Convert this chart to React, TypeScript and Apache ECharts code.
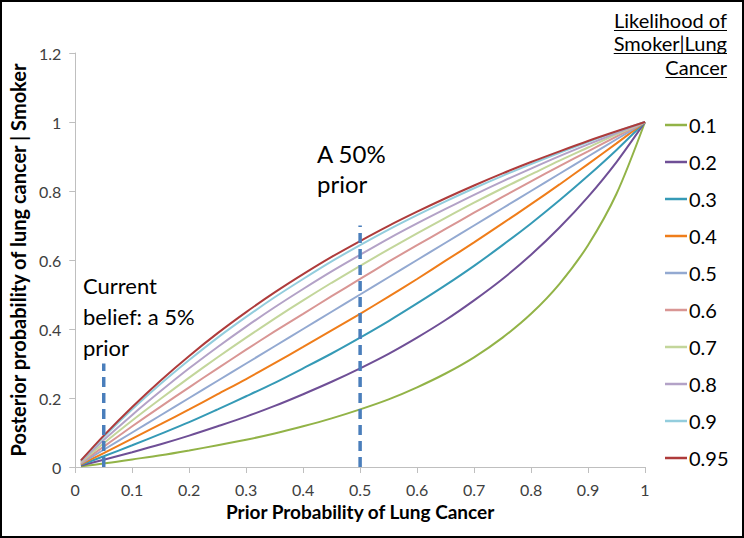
import React, { useEffect, useRef } from "react";
import * as echarts from "echarts";

const priors = [0.01, 0.05, 0.1, 0.15, 0.2, 0.25, 0.3, 0.35, 0.4, 0.45, 0.5, 0.55, 0.6, 0.65, 0.7, 0.75, 0.8, 0.85, 0.9, 0.95, 1];
const likelihoods = ["0.1", "0.2", "0.3", "0.4", "0.5", "0.6", "0.7", "0.8", "0.9", "0.95"];
const post01 = [0.002, 0.010, 0.022, 0.034, 0.048, 0.063, 0.079, 0.097, 0.118, 0.141, 0.167, 0.196, 0.231, 0.271, 0.318, 0.375, 0.444, 0.531, 0.643, 0.792, 1];
const post02 = [0.004, 0.021, 0.043, 0.066, 0.091, 0.118, 0.146, 0.177, 0.211, 0.247, 0.286, 0.328, 0.375, 0.426, 0.483, 0.545, 0.615, 0.694, 0.783, 0.884, 1];
const post03 = [0.006, 0.031, 0.063, 0.096, 0.130, 0.167, 0.205, 0.244, 0.286, 0.329, 0.375, 0.423, 0.474, 0.527, 0.583, 0.643, 0.706, 0.773, 0.844, 0.919, 1];
const post04 = [0.008, 0.040, 0.082, 0.124, 0.167, 0.211, 0.255, 0.301, 0.348, 0.396, 0.444, 0.494, 0.545, 0.598, 0.651, 0.706, 0.762, 0.819, 0.878, 0.938, 1];
const post05 = [0.010, 0.050, 0.100, 0.150, 0.200, 0.250, 0.300, 0.350, 0.400, 0.450, 0.500, 0.550, 0.600, 0.650, 0.700, 0.750, 0.800, 0.850, 0.900, 0.950, 1];
const post06 = [0.012, 0.059, 0.118, 0.175, 0.231, 0.286, 0.340, 0.393, 0.444, 0.495, 0.545, 0.595, 0.643, 0.690, 0.737, 0.783, 0.828, 0.872, 0.915, 0.958, 1];
const post07 = [0.014, 0.069, 0.135, 0.198, 0.259, 0.318, 0.375, 0.430, 0.483, 0.534, 0.583, 0.631, 0.677, 0.722, 0.766, 0.808, 0.848, 0.888, 0.926, 0.964, 1];
const post08 = [0.016, 0.078, 0.151, 0.220, 0.286, 0.348, 0.407, 0.463, 0.516, 0.567, 0.615, 0.662, 0.706, 0.748, 0.789, 0.828, 0.865, 0.901, 0.935, 0.968, 1];
const post09 = [0.018, 0.087, 0.167, 0.241, 0.310, 0.375, 0.435, 0.492, 0.545, 0.596, 0.643, 0.688, 0.730, 0.770, 0.808, 0.844, 0.878, 0.911, 0.942, 0.972, 1];
const post095 = [0.019, 0.091, 0.174, 0.251, 0.322, 0.388, 0.449, 0.506, 0.559, 0.609, 0.655, 0.699, 0.740, 0.779, 0.816, 0.851, 0.884, 0.915, 0.945, 0.973, 1];
const posteriors = [post01, post02, post03, post04, post05, post06, post07, post08, post09, post095];

const markerPriors = [0.05, 0.5];
const markerTops = [0.3, 0.7];

const colors = [
  "#92b347", "#6f4f96", "#359ab6", "#ef7d1a", "#93a9d1",
  "#d99694", "#c3d69b", "#b3a2c7", "#93cddd", "#ae3b3b",
];

const FONT = "Lato, 'Open Sans', sans-serif";

function measure(text: string, font: string): number {
  const c = document.createElement("canvas");
  const ctx = c.getContext("2d");
  if (!ctx) return text.length * 9;
  ctx.font = font;
  return ctx.measureText(text).width;
}

export default function App() {
  const ref = useRef<HTMLDivElement>(null);
  useEffect(() => {
    if (!ref.current) return;
    const chart = echarts.init(ref.current, undefined, { renderer: "svg" });

    const lineSeries = likelihoods.map((name, k) => ({
      name,
      type: "line",
      data: priors.map((p, i) => [p, posteriors[k][i]]),
      smooth: 0.3,
      showSymbol: false,
      symbol: "none",
      color: colors[k],
      lineStyle: { width: 2, color: colors[k] },
      z: 3 + k,
    }));

    const markerSeries = markerPriors.map((p, i) => ({
      name: "marker" + i,
      type: "line",
      data: [[p, 0], [p, markerTops[i]]],
      symbol: "none",
      silent: true,
      lineStyle: { width: 3.5, color: "#4a7ebb", type: [10, 6] },
      z: 20,
    }));

    const titleFont = 20;
    const titleLines = ["Likelihood of", "Smoker|Lung", "Cancer"];
    const titleBaselines = [28, 51, 75];
    const titleRight = 727;
    const titleGraphics: any[] = [];
    titleLines.forEach((t, i) => {
      const w = measure(t, `${titleFont}px Lato`);
      titleGraphics.push({
        type: "text",
        x: titleRight,
        y: titleBaselines[i] - 7.7,
        style: {
          text: t,
          fill: "#000",
          font: `${titleFont}px ${FONT}`,
          align: "right",
          verticalAlign: "middle",
        },
      });
      titleGraphics.push({
        type: "line",
        shape: { x1: titleRight - w, y1: titleBaselines[i] + 2.5, x2: titleRight, y2: titleBaselines[i] + 2.5 },
        style: { stroke: "#000", lineWidth: 1.2 },
      });
    });

    const annotations = [
      { text: "Current", x: 83, y: 285, size: 22 },
      { text: "belief: a 5%", x: 83, y: 316, size: 22 },
      { text: "prior", x: 83, y: 347, size: 22 },
      { text: "A 50%", x: 317, y: 153, size: 24 },
      { text: "prior", x: 317, y: 183, size: 24 },
    ].map((a) => ({
      type: "text",
      x: a.x,
      y: a.y,
      style: {
        text: a.text,
        fill: "#000",
        font: `${a.size}px ${FONT}`,
        align: "left",
        verticalAlign: "middle",
      },
    }));

    chart.setOption({
      animation: false,
      backgroundColor: "#fff",
      grid: { left: 74, right: 99, top: 53, bottom: 71 },
      xAxis: {
        type: "value",
        min: 0,
        max: 1,
        interval: 0.1,
        name: "Prior Probability of Lung Cancer",
        nameLocation: "middle",
        nameGap: 35,
        nameTextStyle: { fontFamily: FONT, fontSize: 19, fontWeight: "bold", color: "#000" },
        axisLine: { show: true, lineStyle: { color: "#bfbfbf", width: 1 } },
        axisTick: { show: true, length: 6, lineStyle: { color: "#bfbfbf" } },
        axisLabel: { fontFamily: FONT, fontSize: 16, color: "#404040", margin: 14 },
        splitLine: { show: false },
      },
      yAxis: {
        type: "value",
        min: 0,
        max: 1.2,
        interval: 0.2,
        name: "Posterior probability of lung cancer | Smoker",
        nameLocation: "middle",
        nameGap: 38,
        nameRotate: 90,
        nameTextStyle: { fontFamily: FONT, fontSize: 20, fontWeight: "bold", color: "#000" },
        axisLine: { show: true, lineStyle: { color: "#bfbfbf", width: 1 } },
        axisTick: { show: true, length: 6, lineStyle: { color: "#bfbfbf" } },
        axisLabel: { fontFamily: FONT, fontSize: 16, color: "#404040", margin: 14 },
        splitLine: { show: false },
      },
      legend: {
        data: likelihoods,
        orient: "vertical",
        left: 665,
        top: 114,
        padding: 0,
        itemGap: 15,
        itemWidth: 22,
        itemHeight: 2.5,
        icon: "rect",
        selectedMode: false,
        textStyle: { fontFamily: FONT, fontSize: 20, color: "#000", lineHeight: 22, padding: [0, 0, 0, -3] },
      },
      graphic: [
        ...titleGraphics,
        ...annotations,
        {
          type: "rect",
          shape: { x: 1, y: 1, width: 742, height: 536 },
          style: { fill: "none", stroke: "#000", lineWidth: 2 },
          silent: true,
        },
      ],
      series: [...lineSeries, ...markerSeries],
    });

    return () => chart.dispose();
  }, []);

  return (
    <div
      ref={ref}
      style={{ position: "fixed", left: 0, top: 0, width: 744, height: 538 }}
    />
  );
}
